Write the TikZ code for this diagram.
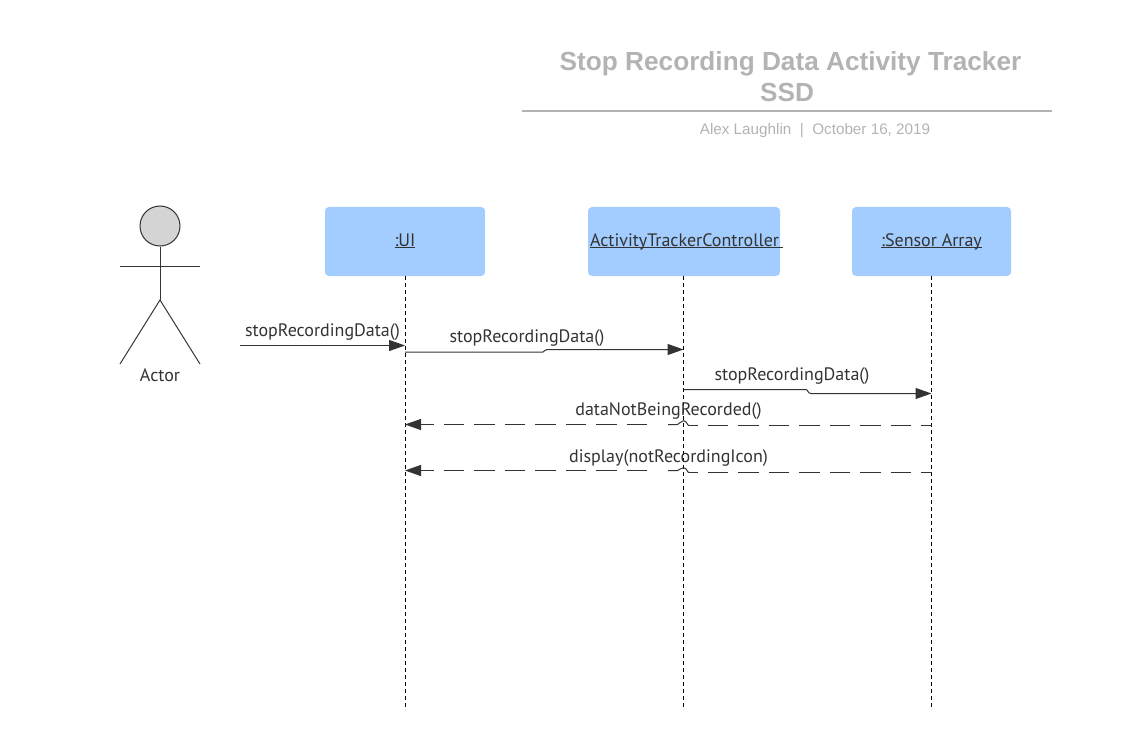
\documentclass[tikz,border=0pt]{standalone}
\usepackage{fontspec}
\setmainfont{PT Sans}
\newfontfamily\titlefont{Liberation Sans}
\usetikzlibrary{arrows.meta}
\definecolor{inkdark}{HTML}{333333}
\definecolor{titlegrey}{HTML}{B3B3B3}
\definecolor{boxblue}{HTML}{A3CCFF}
\newcommand\ulabel[1]{\setbox0=\hbox{#1}\rlap{\rule[-1.9pt]{\wd0}{0.9pt}}\box0}
\tikzset{
  objbox/.style={fill=boxblue,draw=none,rounded corners=4pt,minimum height=69pt,inner sep=0pt,text=inkdark,font=\fontsize{18}{21}\selectfont},
  lifeline/.style={draw=black,line width=0.9pt,dash pattern=on 4pt off 3pt},
  stick/.style={draw=inkdark,line width=1pt},
  msg/.style={draw=inkdark,line width=1pt,-{Triangle[length=16pt,width=11pt,fill=inkdark]}},
  replyhead/.style={msg,dash pattern=on 20.5pt off 10pt},
  replytail/.style={draw=inkdark,line width=1pt,dash pattern=on 20.5pt off 10pt,dash phase=10pt},
  hopline/.style={draw=inkdark,line width=1pt},
  msglabel/.style={text=inkdark,inner sep=0pt,font=\fontsize{18}{21}\selectfont},
  titletext/.style={text=titlegrey,inner sep=0pt,align=center}
}
\begin{document}
\begin{tikzpicture}[x=1pt,y=-1pt]
\useasboundingbox (0,0) rectangle (1140,746);
% title
\node[titletext,font=\titlefont\bfseries\fontsize{26.2}{31}\selectfont] (title1) at (790.5,64) {Stop Recording Data Activity Tracker};
\node[titletext,font=\titlefont\bfseries\fontsize{26.2}{31}\selectfont] (title2) at (787,92) {SSD};
\coordinate (ruleL) at (522,111);
\coordinate (ruleR) at (1052,111);
\draw[titlegrey,line width=2pt] (ruleL) -- (ruleR);
\node[titletext,font=\titlefont\fontsize{15.25}{18}\selectfont] (subtitle) at (815,131) {Alex Laughlin\ \ |\ \ October 16, 2019};
% actor
\node[circle,draw=inkdark,fill=black!17,line width=1pt,minimum size=40pt,inner sep=0pt] (head) at (160,226) {};
\coordinate (hip) at (160,300);
\coordinate (armL) at (120,266);
\coordinate (armR) at (200,266);
\coordinate (footL) at (120,364);
\coordinate (footR) at (200,364);
\draw[stick] (head.south) -- (hip);
\draw[stick] (armL) -- (armR);
\draw[stick] (footL) -- (hip) -- (footR);
\node[msglabel] (actor) at (160,375) {Actor};
% objects
\node[objbox,minimum width=160pt,text depth=5pt,text height=12pt] (ui) at (405,241.5) {\raisebox{-1pt}{\ulabel{:UI}}};
\node[objbox,minimum width=192pt,text depth=5pt,text height=12pt] (ctrl) at (684,241.5) {\makebox[192pt][l]{\hspace{2pt}\raisebox{-1pt}{\ulabel{ActivityTrackerController\hspace{4pt}}}}};
\node[objbox,minimum width=159pt,text depth=5pt,text height=12pt] (sensor) at (931.5,241.5) {\raisebox{-1pt}{\ulabel{:Sensor Array}}};
% lifeline ends
\coordinate (uiEnd) at (405,708);
\coordinate (ctrlEnd) at (683.5,708);
\coordinate (sensorEnd) at (931.5,708);
\draw[lifeline] (ui.south) -- (uiEnd);
\draw[lifeline] (ctrlEnd |- ctrl.south) -- (ctrlEnd);
\draw[lifeline] (sensor.south) -- (sensorEnd);
% messages
\coordinate (m1s) at (240,345.5);
\draw[msg] (m1s) -- (ui |- m1s);
\node[msglabel] (l1) at (322.5,332.5) {stopRecordingData()};
\coordinate (m2s) at (405,352);
\coordinate (m2e) at (683.5,349.5);
\draw[msg] (m2s) -- (543,352) .. controls (545,352) and (544,349.5) .. (547,349.5) -- (m2e);
\node[msglabel] (l2) at (527,338) {stopRecordingData()};
\coordinate (m3s) at (683.5,389.5);
\coordinate (m3e) at (931.5,393.5);
\draw[msg] (m3s) -- (806,389.5) .. controls (808,389.5) and (807.5,393.5) .. (811,393.5) -- (m3e);
\node[msglabel] (l3) at (792,376.5) {stopRecordingData()};
\coordinate (m4s) at (931.5,425.5);
\coordinate (m4e) at (405,424.5);
\draw[replytail] (m4s) -- (689,425.5);
\draw[hopline] (689,425.5) .. controls (687,425.5) and (687,420.7) .. (683.5,420.7) .. controls (680,420.7) and (680,424.5) .. (677.5,424.5) -- (668,424.5);
\draw[replyhead] (647,424.5) -- (m4e);
\node[msglabel] (l4) at (668.5,411) {dataNotBeingRecorded()};
\coordinate (m5s) at (931.5,472.5);
\coordinate (m5e) at (405,470.5);
\draw[replytail] (m5s) -- (689,472.5);
\draw[hopline] (689,472.5) .. controls (687,472.5) and (687,467.7) .. (683.5,467.7) .. controls (680,467.7) and (680,470.5) .. (677.5,470.5) -- (668,470.5);
\draw[replyhead] (647,470.5) -- (m5e);
\node[msglabel] (l5) at (668.5,458.5) {display(notRecordingIcon)};
\end{tikzpicture}
\end{document}
